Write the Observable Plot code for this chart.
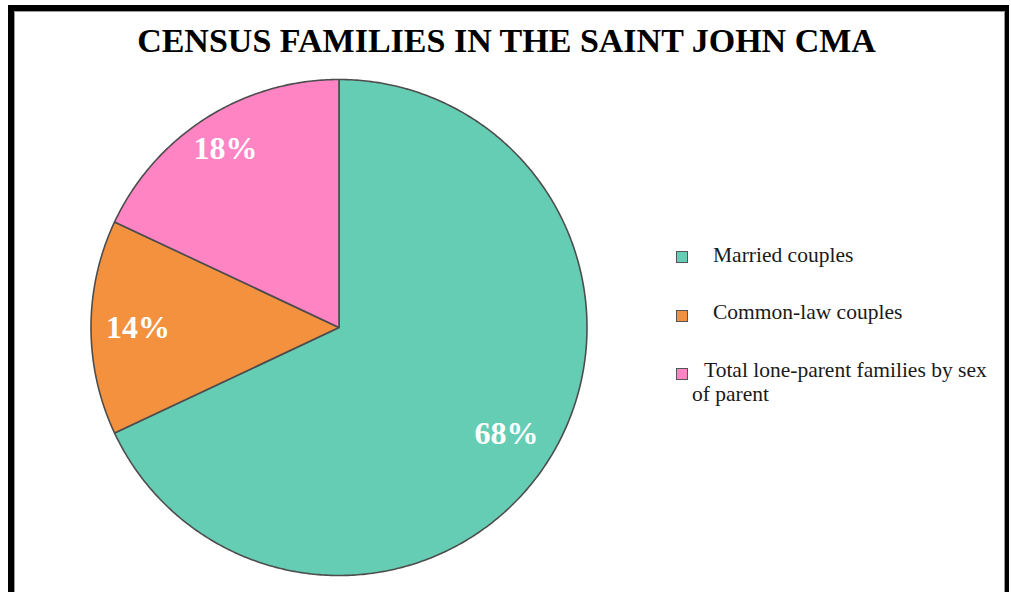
<!DOCTYPE html>
<html>
<head>
<meta charset="utf-8">
<script src="https://cdn.jsdelivr.net/npm/d3@7"></script>
<script src="https://cdn.jsdelivr.net/npm/@observablehq/plot@0.6"></script>
<style>
  html, body { margin: 0; padding: 0; background: #fff; }
  #wrap { position: relative; width: 1011px; height: 592px; overflow: hidden; background: #fff; font-family: "Liberation Serif", "DejaVu Serif", serif; }
  #frame { position: absolute; left: 8px; top: 5px; width: 991px; height: 700px; border-style: solid; border-color: #000; border-width: 6px 4px 6px 6px; box-shadow: inset 0 0 0 1px #9a9a9a; }
  #title { position: absolute; left: 0; top: 24px; width: 1013px; text-align: center; font-weight: bold; font-size: 34px; line-height: 34px; color: #000; white-space: nowrap; }
  #chart { position: absolute; left: 0; top: 0; }
  .lg { position: absolute; font-size: 21.5px; line-height: 24px; color: #1a1a1a; white-space: nowrap; }
  .sw { position: absolute; width: 10px; height: 10px; border: 1px solid #555; }
</style>
</head>
<body>
<div id="wrap">
  <div id="frame"></div>
  <div id="chart"></div>
  <div id="title"></div>
  <div id="legend"></div>
</div>
<script>
// ---- data ----
const categories = ["Married couples", "Common-law couples", "Total lone-parent families by sex of parent"];
const values = [68, 14, 18];
const colors = ["#66cdb5", "#f3913f", "#fe84c4"];
const titleText = "CENSUS FAMILIES IN THE SAINT JOHN CMA";

// ---- layout constants ----
const cx = 338.5, cy = 327, r = 248;
const labelRadius = [0.80, 0.81, 0.855];

document.getElementById("title").textContent = titleText;

const table = categories.map((c, i) => ({cat: c, value: values[i]}));
const total = d3.sum(values);
const arcs = d3.pie().sort(null).value(d => d.value).startAngle(0).endAngle(2 * Math.PI)(table);

// polygon points for each slice (unit circle coordinates)
const pts = [];
arcs.forEach(a => {
  pts.push({cat: a.data.cat, x: 0, y: 0});
  const n = Math.max(8, Math.ceil((a.endAngle - a.startAngle) / 0.01));
  for (let k = 0; k <= n; k++) {
    const t = a.startAngle + (a.endAngle - a.startAngle) * k / n;
    pts.push({cat: a.data.cat, x: Math.sin(t), y: Math.cos(t)});
  }
});

const labels = arcs.map((a, i) => {
  const m = (a.startAngle + a.endAngle) / 2;
  return {cat: a.data.cat, x: labelRadius[i] * Math.sin(m), y: labelRadius[i] * Math.cos(m),
          text: Math.round(a.data.value / total * 100) + "%"};
});

const plot = Plot.plot({
  width: 1011,
  height: 592,
  margin: 0,
  x: {domain: [-1, 1], range: [cx - r, cx + r], axis: null},
  y: {domain: [-1, 1], range: [cy + r, cy - r], axis: null},
  color: {domain: categories, range: colors},
  style: {background: "transparent", overflow: "visible"},
  marks: [
    Plot.line(pts, {x: "x", y: "y", z: "cat", fill: "cat", stroke: "#4d4d4d", strokeWidth: 1.6, strokeLinejoin: "round", curve: "linear-closed"}),
    Plot.text(labels, {x: "x", y: "y", text: "text", fill: "white", fontSize: 32, fontWeight: "bold", fontFamily: "Liberation Serif", textAnchor: "middle", lineAnchor: "middle"})
  ]
});
document.getElementById("chart").appendChild(plot);

// ---- legend ----
const legend = document.getElementById("legend");
const legendRows = [
  {sw: [676, 251], lines: [[713, 243, categories[0]]]},
  {sw: [676, 310], lines: [[713, 300, categories[1]]]},
  {sw: [676, 368], lines: [[704, 358, "Total lone-parent families by sex"], [692, 382, "of parent"]]}
];
legendRows.forEach((row, i) => {
  const s = document.createElement("div");
  s.className = "sw";
  s.style.left = row.sw[0] + "px";
  s.style.top = row.sw[1] + "px";
  s.style.background = colors[i];
  legend.appendChild(s);
  row.lines.forEach(([x, y, t]) => {
    const d = document.createElement("div");
    d.className = "lg";
    d.style.left = x + "px";
    d.style.top = y + "px";
    d.textContent = t;
    legend.appendChild(d);
  });
});
</script>
</body>
</html>
